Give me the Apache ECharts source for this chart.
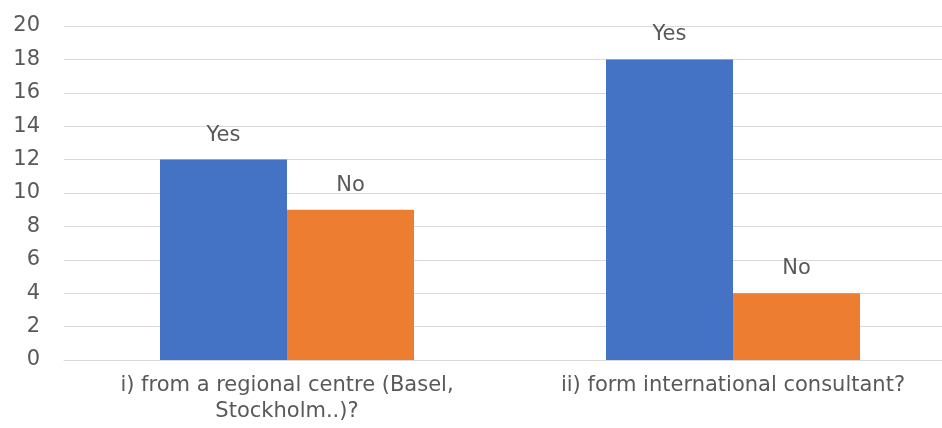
<!DOCTYPE html>
<html>
<head>
<meta charset="utf-8">
<script src="https://cdn.jsdelivr.net/npm/echarts@6/dist/echarts.min.js"></script>
<style>
  html, body { margin: 0; padding: 0; background: #fff; overflow: hidden; }
  #chart { width: 956px; height: 428px; }
</style>
</head>
<body>
<div id="chart"></div>
<script>
// Survey answers per question
const categories = [
  'i) from a regional centre (Basel,\nStockholm..)?',
  'ii) form international consultant?'
];
const yesValues = [12, 18];
const noValues = [9, 4];
const seriesNames = ['Yes', 'No'];
const yTicks = { min: 0, max: 20, interval: 2 };

const FONT = '"DejaVu Sans", sans-serif';
const TEXT = '#595959';
const SIZE = 21;

const chart = echarts.init(document.getElementById('chart'), null, { renderer: 'canvas' });

const labelStyle = {
  show: true,
  position: 'top',
  distance: 14,
  color: TEXT,
  fontSize: SIZE,
  fontFamily: FONT,
  formatter: p => p.seriesName
};

chart.setOption({
  animation: false,
  grid: { left: 64, right: 0, top: 26, bottom: 68 },
  xAxis: {
    type: 'category',
    data: categories,
    axisLine: { lineStyle: { color: '#d9d9d9' } },
    axisTick: { show: false },
    axisLabel: {
      color: TEXT, fontSize: SIZE, fontFamily: FONT,
      lineHeight: 26, margin: 13, interval: 0
    }
  },
  yAxis: {
    type: 'value',
    min: yTicks.min, max: yTicks.max, interval: yTicks.interval,
    axisLine: { show: false },
    axisTick: { show: false },
    splitLine: { lineStyle: { color: '#d9d9d9' } },
    axisLabel: { color: TEXT, fontSize: SIZE, fontFamily: FONT, margin: 24 }
  },
  series: [
    {
      name: seriesNames[0], type: 'bar', data: yesValues,
      barWidth: 127, barGap: '0%',
      itemStyle: { color: '#4472c4' },
      label: labelStyle
    },
    {
      name: seriesNames[1], type: 'bar', data: noValues,
      barWidth: 127, barGap: '0%',
      itemStyle: { color: '#ed7d31' },
      label: labelStyle
    }
  ]
});
</script>
</body>
</html>
